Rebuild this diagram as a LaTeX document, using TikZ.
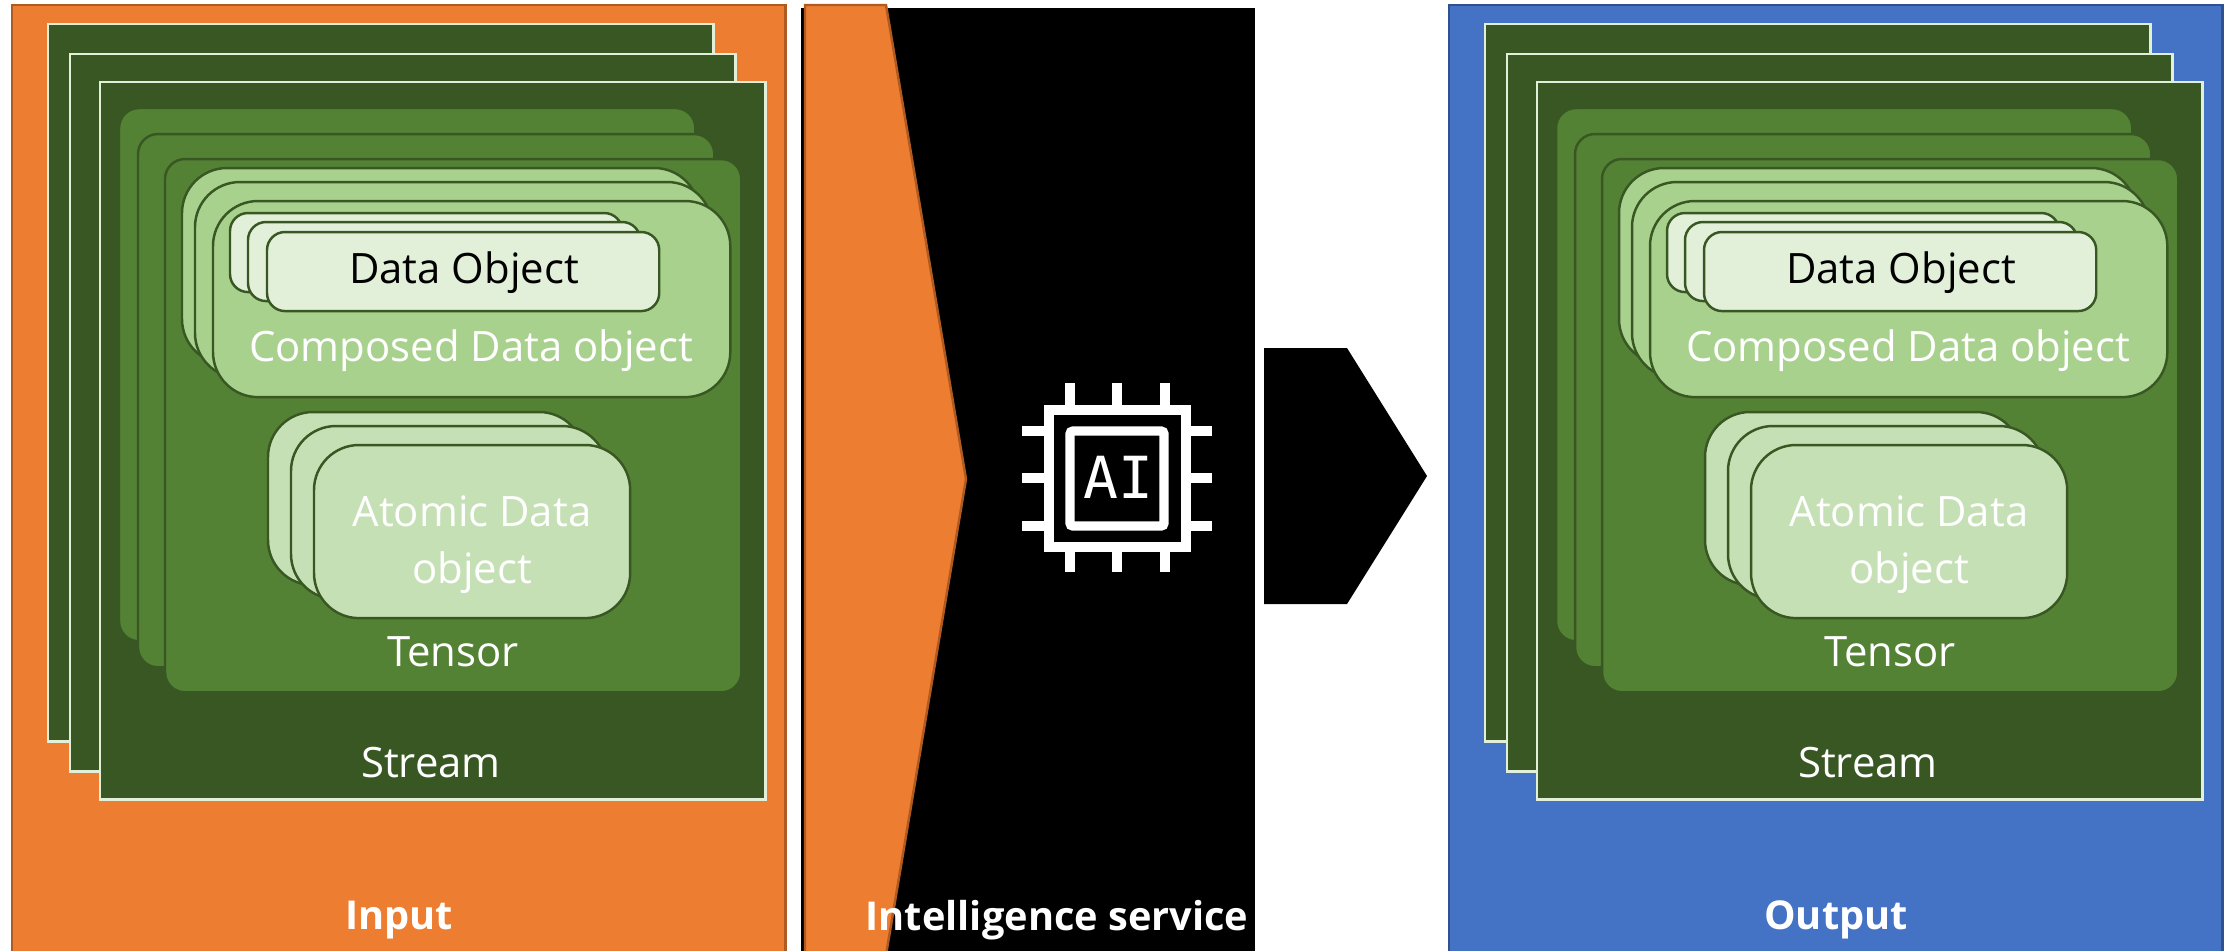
\documentclass[tikz,border=0pt]{standalone}
\usepackage{fontspec}
\setmainfont{Open Sans}
\newfontfamily\chipfont{DejaVu Sans Mono}
\usepackage{tikz}
\usetikzlibrary{positioning}

\definecolor{panelorange}{HTML}{ED7D31}
\definecolor{orangeedge}{HTML}{AE5A21}
\definecolor{panelblue}{HTML}{4472C4}
\definecolor{blueedge}{HTML}{2F528F}
\definecolor{streamgreen}{HTML}{385723}
\definecolor{tensorgreen}{HTML}{548235}
\definecolor{composedgreen}{HTML}{A9D18E}
\definecolor{atomicgreen}{HTML}{C5E0B4}
\definecolor{objectgreen}{HTML}{E2F0D9}

\tikzset{
    box/.style={draw, rectangle, anchor=north west, outer sep=0pt, text centered},
    panel/.style={box, line width=0.7pt, minimum width=7.73cm, minimum height=9.6cm},
    stream/.style={box, fill=streamgreen, draw=objectgreen, line width=0.8pt, minimum width=6.65cm, minimum height=7.17cm},
    tensor/.style={box, fill=tensorgreen, draw=streamgreen, line width=0.7pt, rounded corners=0.2cm, minimum width=5.76cm, minimum height=5.33cm},
    composed/.style={box, fill=composedgreen, draw=streamgreen, line width=0.7pt, rounded corners=0.45cm, minimum width=5.17cm, minimum height=1.96cm},
    dataobject/.style={box, fill=objectgreen, draw=streamgreen, line width=0.7pt, rounded corners=0.18cm, minimum width=3.92cm, minimum height=0.79cm},
    atomic/.style={box, fill=atomicgreen, draw=streamgreen, line width=0.7pt, rounded corners=0.45cm, minimum width=3.16cm, minimum height=1.73cm},
    label/.style={text=white, font=\fontsize{11.9pt}{14pt}\selectfont, inner sep=0pt},
    title/.style={text=white, font=\fontsize{11.3pt}{14pt}\selectfont\bfseries, inner sep=0pt},
    chipline/.style={white, line width=0.093cm}
}

\begin{document}
\begin{tikzpicture}[x=0.01cm, y=-0.01cm]

    \useasboundingbox (0,0) rectangle (2233,950);

    % Input panel with its stacks
    \node (inputPanel) [panel, fill=panelorange, draw=orangeedge] at (12,5) {};
    \node (streamA) [stream] at (48,24) {};
    \node (streamB) [stream] at (70,54) {};
    \node (streamC) [stream] at (100,82) {};
    \node (tensorA) [tensor] at (119,108) {};
    \node (tensorB) [tensor] at (138,134) {};
    \node (tensorC) [tensor] at (165,159) {};
    \node (composedA) [composed] at (182,168) {};
    \node (composedB) [composed] at (195,182) {};
    \node (composedC) [composed] at (213,201) {};
    \node (objectA) [dataobject] at (230,213) {};
    \node (objectB) [dataobject] at (248,222) {};
    \node (objectC) [dataobject] at (267,232) {};
    \node (atomicA) [atomic] at (268,412) {};
    \node (atomicB) [atomic] at (291,426) {};
    \node (atomicC) [atomic] at (314,445) {};

    % Input labels
    \node (objectText) [label, text=black] at (464,273) {Data Object};
    \node (composedText) [label] at (471,351) {Composed Data object};
    \node (atomicText) [label] at (472,511) {Atomic Data};
    \node (atomicTextB) [label] at (472,573) {object};
    \node (tensorText) [label] at (453,652) {Tensor};
    \node (streamText) [label] at (431,763) {Stream};
    \node (inputText) [title] at (399,920) {Input};

    % Intelligence service panel
    \node (servicePanel) [box, fill=black, line width=0pt, minimum width=4.53cm, minimum height=9.5cm] at (801,8) {};
    \draw[fill=panelorange, draw=orangeedge, line width=0.7pt] (805,5) -- (886,5) -- (966,479) -- (886,955) -- (805,955) -- cycle;
    \fill[black] (1264,348) -- (1347,348) -- (1427,476) -- (1347,604) -- (1264,604) -- cycle;

    % Chip icon
    \draw[chipline] (1049,410) rectangle (1186,547);
    \draw[chipline, rounded corners=0.03cm] (1070,431) rectangle (1164,526);
    \draw[chipline] (1070,383) -- (1070,405) (1117,383) -- (1117,405) (1165,383) -- (1165,405);
    \draw[chipline] (1070,552) -- (1070,572) (1117,552) -- (1117,572) (1165,552) -- (1165,572);
    \draw[chipline] (1022,431) -- (1044,431) (1022,478) -- (1044,478) (1022,526) -- (1044,526);
    \draw[chipline] (1191,431) -- (1212,431) (1191,478) -- (1212,478) (1191,526) -- (1212,526);
    \node (chipText) [text=white, inner sep=0pt, font=\chipfont\fontsize{16.5pt}{18pt}\selectfont] at (1118,477) {AI};
    \node (serviceText) [title] at (1057,920) {Intelligence service};

    % Output panel with its stacks
    \node (outputPanel) [panel, fill=panelblue, draw=blueedge] at (1449,5) {};
    \node (outStreamA) [stream] at (1485,24) {};
    \node (outStreamB) [stream] at (1507,54) {};
    \node (outStreamC) [stream] at (1537,82) {};
    \node (outTensorA) [tensor] at (1556,108) {};
    \node (outTensorB) [tensor] at (1575,134) {};
    \node (outTensorC) [tensor] at (1602,159) {};
    \node (outComposedA) [composed] at (1619,168) {};
    \node (outComposedB) [composed] at (1632,182) {};
    \node (outComposedC) [composed] at (1650,201) {};
    \node (outObjectA) [dataobject] at (1667,213) {};
    \node (outObjectB) [dataobject] at (1685,222) {};
    \node (outObjectC) [dataobject] at (1704,232) {};
    \node (outAtomicA) [atomic] at (1705,412) {};
    \node (outAtomicB) [atomic] at (1728,426) {};
    \node (outAtomicC) [atomic] at (1751,445) {};

    % Output labels
    \node (outObjectText) [label, text=black] at (1901,273) {Data Object};
    \node (outComposedText) [label] at (1908,351) {Composed Data object};
    \node (outAtomicText) [label] at (1909,511) {Atomic Data};
    \node (outAtomicTextB) [label] at (1909,573) {object};
    \node (outTensorText) [label] at (1890,652) {Tensor};
    \node (outStreamText) [label] at (1868,763) {Stream};
    \node (outputText) [title] at (1836,920) {Output};

\end{tikzpicture}
\end{document}
